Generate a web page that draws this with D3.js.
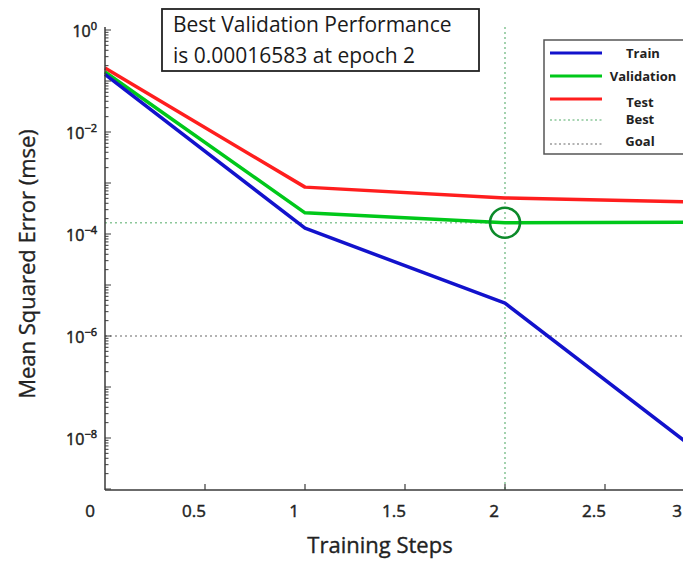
<!DOCTYPE html>
<html>
<head>
<meta charset="utf-8">
<script src="https://cdn.jsdelivr.net/npm/d3@7/dist/d3.min.js"></script>
<style>
  html, body { margin: 0; padding: 0; background: #fff; overflow: hidden; }
  svg { display: block; font-family: "Open Sans", "Noto Sans", sans-serif; }
</style>
</head>
<body>
<svg id="chart" width="683" height="563"></svg>
<script>
// Training record: mean squared error per epoch
const epochs = [0, 1, 2, 3];
const trainMse = [0.135, 1.3e-4, 4.4e-6, 4.3e-9];
const validationMse = [0.15, 2.6e-4, 1.6583e-4, 1.7e-4];
const testMse = [0.18, 8.3e-4, 5.1e-4, 4.2e-4];

const bestEpoch = 2;
const bestPerf = 0.00016583;
const goalMse = 1e-6;

const xTicks = [0, 0.5, 1, 1.5, 2, 2.5, 3];
const xTickLabels = ["0", "0.5", "1", "1.5", "2", "2.5", "3"];
const yLabelExps = [0, -2, -4, -6, -8];

const legendNames = ["Train", "Validation", "Test", "Best", "Goal"];

const svg = d3.select("#chart");
const W = 683;

const x = d3.scaleLinear().domain([0, 3]).range([105, 705]);
const y = d3.scaleLog().domain([1e-9, 1]).range([489, 30]);

const axisColor = "#3a3a3a";
const textColor = "#222";
const plotTop = 27, plotBottom = 490;

// Goal and best-epoch guide lines
svg.append("line")
  .attr("x1", x(0)).attr("x2", W)
  .attr("y1", y(goalMse)).attr("y2", y(goalMse))
  .attr("stroke", "#9a9a9a").attr("stroke-width", 1.6)
  .attr("stroke-dasharray", "2,3");

svg.append("line")
  .attr("x1", x(0)).attr("x2", W)
  .attr("y1", y(bestPerf)).attr("y2", y(bestPerf))
  .attr("stroke", "#8cc79a").attr("stroke-width", 1.6)
  .attr("stroke-dasharray", "2,3");

svg.append("line")
  .attr("x1", x(bestEpoch)).attr("x2", x(bestEpoch))
  .attr("y1", plotTop).attr("y2", plotBottom)
  .attr("stroke", "#8cc79a").attr("stroke-width", 1.6)
  .attr("stroke-dasharray", "2,3");

// Error curves
const line = d3.line().x((d, i) => x(epochs[i])).y(d => y(d));
const series = [
  { values: testMse, color: "#ff1e1e" },
  { values: validationMse, color: "#00c81a" },
  { values: trainMse, color: "#1212cc" }
];
series.forEach(s => {
  svg.append("path")
    .datum(s.values)
    .attr("d", line)
    .attr("fill", "none")
    .attr("stroke", s.color)
    .attr("stroke-width", 3.5)
    .attr("stroke-linejoin", "round");
});

// Marker on the best validation point
svg.append("circle")
  .attr("cx", x(bestEpoch)).attr("cy", y(bestPerf))
  .attr("r", 15)
  .attr("fill", "none")
  .attr("stroke", "#0c8a2a")
  .attr("stroke-width", 2.6);

// Axis lines
svg.append("line")
  .attr("x1", x(0)).attr("x2", x(0))
  .attr("y1", plotTop).attr("y2", plotBottom)
  .attr("stroke", axisColor).attr("stroke-width", 1.5);
svg.append("line")
  .attr("x1", x(0)).attr("x2", W)
  .attr("y1", plotBottom).attr("y2", plotBottom)
  .attr("stroke", axisColor).attr("stroke-width", 1.5);

// Log ticks on the y axis (inward)
const yTickVals = [];
for (let k = -9; k <= 0; k++) {
  for (let m = 1; m <= 9; m++) {
    const v = m * Math.pow(10, k);
    if (v <= 1 && v >= 1e-9) yTickVals.push({ v, major: m === 1 });
  }
}
svg.append("g").selectAll("line")
  .data(yTickVals)
  .join("line")
  .attr("x1", x(0)).attr("x2", d => x(0) + (d.major ? 6 : 3.5))
  .attr("y1", d => y(d.v)).attr("y2", d => y(d.v))
  .attr("stroke", axisColor).attr("stroke-width", 1);

// Semi-bold look: fill plus a hairline stroke of the same colour
function heavy(sel, w) {
  return sel.attr("fill", textColor).attr("stroke", textColor)
    .attr("stroke-width", w).attr("paint-order", "stroke");
}

// y tick labels as powers of ten
const yLab = heavy(svg.append("g"), 0.5);
yLabelExps.forEach(e => {
  const t = yLab.append("text")
    .attr("x", 97)
    .attr("y", y(Math.pow(10, e)) + 7)
    .attr("text-anchor", "end")
    .attr("font-size", 16);
  t.append("tspan").text("10");
  t.append("tspan")
    .attr("dy", -7)
    .attr("font-size", 11)
    .text(e === 0 ? "0" : "\u2212" + Math.abs(e));
});

// x ticks (inward) and labels
svg.append("g").selectAll("line")
  .data(xTicks.slice(1))
  .join("line")
  .attr("x1", d => x(d)).attr("x2", d => x(d))
  .attr("y1", plotBottom).attr("y2", plotBottom - 6)
  .attr("stroke", axisColor).attr("stroke-width", 1.2);

heavy(svg.append("g"), 0.45).selectAll("text")
  .data(xTicks)
  .join("text")
  .attr("x", (d, i) => Math.min(x(d) - (i === 0 ? 15 : 11), W - 1))
  .attr("y", 517)
  .attr("text-anchor", (d, i) => x(d) - 11 > W - 6 ? "end" : "middle")
  .attr("font-size", 17)
  .text((d, i) => xTickLabels[i]);

// Axis titles
heavy(svg.append("text"), 0.35)
  .attr("x", 380).attr("y", 553)
  .attr("text-anchor", "middle")
  .attr("font-size", 22)
  .text("Training Steps");

heavy(svg.append("text"), 0.35)
  .attr("transform", "translate(35,264) rotate(-90)")
  .attr("text-anchor", "middle")
  .attr("font-size", 22)
  .text("Mean Squared Error (mse)");

// Title box
svg.append("rect")
  .attr("x", 162).attr("y", 9)
  .attr("width", 317).attr("height", 62)
  .attr("fill", "#fff")
  .attr("stroke", "#222").attr("stroke-width", 1.8);
const title = svg.append("text")
  .attr("font-size", 21)
  .attr("fill", "#1a1a1a");
title.append("tspan").attr("x", 173).attr("y", 32).text("Best Validation Performance");
title.append("tspan").attr("x", 173).attr("y", 63).text("is " + bestPerf.toFixed(8) + " at epoch " + bestEpoch);

// Legend
const legend = svg.append("g");
legend.append("rect")
  .attr("x", 544).attr("y", 40)
  .attr("width", 160).attr("height", 114)
  .attr("fill", "#fff")
  .attr("stroke", "#555").attr("stroke-width", 1.5);

const legendRows = [
  { y: 53, color: "#1212cc", dash: null, tx: 643, ty: 58 },
  { y: 76, color: "#00c81a", dash: null, tx: 643, ty: 81 },
  { y: 99, color: "#ff1e1e", dash: null, tx: 640, ty: 107 },
  { y: 120, color: "#8cc79a", dash: "2,2.5", tx: 640, ty: 124 },
  { y: 144, color: "#9a9a9a", dash: "2,2.5", tx: 640, ty: 146 }
];
legendRows.forEach((r, i) => {
  legend.append("line")
    .attr("x1", 550).attr("x2", 602)
    .attr("y1", r.y).attr("y2", r.y)
    .attr("stroke", r.color)
    .attr("stroke-width", r.dash ? 1.4 : 3.2)
    .attr("stroke-dasharray", r.dash);
  legend.append("text")
    .attr("x", r.tx).attr("y", r.ty)
    .attr("text-anchor", "middle")
    .attr("font-size", 13)
    .attr("font-weight", "bold")
    .attr("fill", textColor)
    .text(legendNames[i]);
});
</script>
</body>
</html>
